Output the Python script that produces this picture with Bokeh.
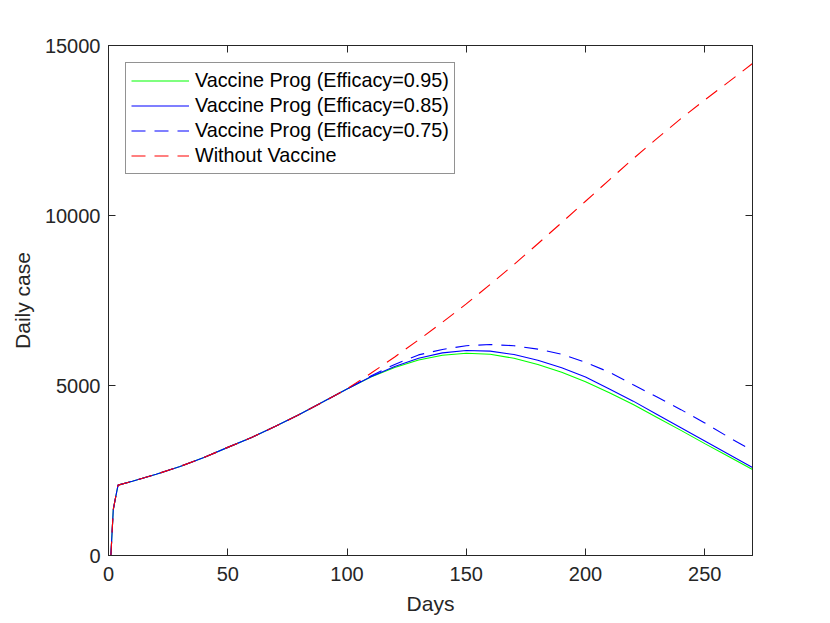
from bokeh.plotting import figure
from bokeh.models import Range1d, LinearAxis, FixedTicker, CustomJSTickFormatter
from bokeh.embed import file_html
from bokeh.resources import INLINE

# ---- data ----
days = [1, 2, 3, 4, 10, 20, 30, 40, 50, 60, 70, 80, 90, 100,
        110, 120, 130, 140, 150, 160, 170, 180, 190, 200,
        210, 220, 230, 240, 250, 260, 270]

common_start = [0, 1350, 1720, 2070, 2185, 2390, 2620, 2880, 3180, 3470, 3800, 4150, 4520, 4900]

eff095_tail = [5250, 5530, 5750, 5890, 5950, 5920, 5800, 5620, 5390, 5110,
               4790, 4440, 4060, 3680, 3290, 2910, 2530]
eff085_tail = [5260, 5560, 5800, 5960, 6030, 6010, 5910, 5740, 5520, 5250,
               4900, 4540, 4150, 3760, 3370, 2980, 2590]
eff075_tail = [5280, 5620, 5900, 6060, 6170, 6205, 6170, 6070, 5920, 5680,
               5390, 5020, 4660, 4290, 3900, 3480, 3080]
novacc_tail = [5360, 5840, 6340, 6860, 7400, 7970, 8560, 9170, 9790, 10420,
               11050, 11670, 12270, 12850, 13400, 13930, 14470]

eff095 = common_start + eff095_tail
eff085 = common_start + eff085_tail
eff075 = common_start + eff075_tail
novacc = common_start + novacc_tail

labels = ["Vaccine Prog (Efficacy=0.95)", "Vaccine Prog (Efficacy=0.85)",
          "Vaccine Prog (Efficacy=0.75)", "Without Vaccine"]
x_ticks = [0, 50, 100, 150, 200, 250]
y_ticks = [0, 5000, 10000, 15000]

FONT = "Liberation Sans"
AX = "#262626"
colors = ["#00ff00", "#0000ff", "#0000ff", "#ff0000"]
dashes = ["solid", "solid", "14 9", "14 9"]
series = [eff095, eff085, eff075, novacc]

p = figure(width=822, height=623, x_range=Range1d(0, 270), y_range=Range1d(0, 15000),
           output_backend="svg", toolbar_location=None,
           min_border_left=108, min_border_right=70, min_border_top=45, min_border_bottom=68)
p.xgrid.visible = False
p.ygrid.visible = False
p.outline_line_color = AX
p.outline_line_width = 1
p.background_fill_color = "white"
p.border_fill_color = "white"

for ys, c, d, lab in zip(series, colors, dashes, labels):
    p.line(days, ys, line_color=c, line_width=1.1, line_dash=d, legend_label=lab)

def style_axis(ax, show_labels=True):
    ax.axis_line_color = AX
    ax.major_tick_line_color = AX
    ax.major_tick_in = 7
    ax.major_tick_out = 0
    ax.minor_tick_line_color = None
    ax.major_label_text_font = FONT
    ax.major_label_text_color = AX
    ax.axis_label_text_font = FONT
    ax.axis_label_text_color = AX
    ax.axis_label_text_font_style = "normal"
    if not show_labels:
        ax.formatter = CustomJSTickFormatter(code="return ''")
        ax.major_label_standoff = 0
        ax.major_label_text_font_size = "1px"

xa = p.xaxis[0]
style_axis(xa)
xa.ticker = FixedTicker(ticks=x_ticks)
xa.major_label_text_font_size = "20px"
xa.major_label_standoff = 11
xa.axis_label = "Days"
xa.axis_label_text_font_size = "21px"
xa.axis_label_standoff = 8

ya = p.yaxis[0]
style_axis(ya)
ya.ticker = FixedTicker(ticks=y_ticks)
ya.major_label_text_font_size = "20px"
ya.major_label_standoff = 8
ya.axis_label = "Daily case"
ya.axis_label_text_font_size = "21px"
ya.axis_label_standoff = 8

top = LinearAxis(ticker=FixedTicker(ticks=x_ticks))
style_axis(top, show_labels=False)
p.add_layout(top, "above")
right = LinearAxis(ticker=FixedTicker(ticks=y_ticks))
style_axis(right, show_labels=False)
p.add_layout(right, "right")

legend = p.legend[0]
legend.location = "top_left"
legend.label_text_font = FONT
legend.label_text_font_size = "19.8px"
legend.label_text_color = "black"
legend.glyph_width = 58
legend.glyph_height = 25
legend.label_height = 25
legend.label_standoff = 6
legend.padding = 5
legend.spacing = 0
legend.margin = 17
legend.border_line_color = AX
legend.border_line_width = 1
legend.background_fill_color = "white"
legend.background_fill_alpha = 1

open("out.html", "w").write(file_html(p, INLINE))
